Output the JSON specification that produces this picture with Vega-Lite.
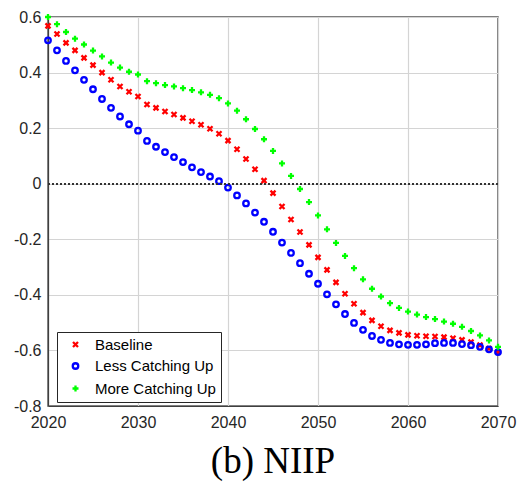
{
  "$schema": "https://vega.github.io/schema/vega-lite/v6.json",
  "width": 450,
  "height": 389,
  "autosize": {"type": "none"},
  "padding": {"left": 48, "top": 17, "right": 26, "bottom": 80},
  "background": "white",
  "title": {"text": "(b) NIIP", "orient": "bottom", "font": "Liberation Serif", "fontSize": 37, "fontWeight": "normal", "color": "#000000", "offset": 14, "anchor": "middle"},
  "config": {
    "view": {"stroke": "#555555", "strokeWidth": 1.5},
    "axis": {"labelFont": "Liberation Sans", "labelFontSize": 16, "labelColor": "#262626", "domainColor": "#404040", "domainWidth": 1.2, "tickSize": 0, "grid": true, "gridColor": "#d4d4d4", "gridWidth": 1.2, "title": null, "labelFlush": false},
    "legend": {"labelFont": "Liberation Sans", "labelFontSize": 15, "labelColor": "#000000", "strokeColor": "#262626", "fillColor": "white", "padding": 5, "rowPadding": 5.5, "symbolStrokeWidth": 2.3, "labelOffset": 12, "symbolOffset": 6}
  },
  "data": {"name": "d", "values": [
    {"t":2020,"s":"Baseline","v":0.568},{"t":2021,"s":"Baseline","v":0.539},{"t":2022,"s":"Baseline","v":0.507},{"t":2023,"s":"Baseline","v":0.480},{"t":2024,"s":"Baseline","v":0.453},{"t":2025,"s":"Baseline","v":0.427},{"t":2026,"s":"Baseline","v":0.400},{"t":2027,"s":"Baseline","v":0.374},{"t":2028,"s":"Baseline","v":0.350},{"t":2029,"s":"Baseline","v":0.331},
    {"t":2030,"s":"Baseline","v":0.314},{"t":2031,"s":"Baseline","v":0.285},{"t":2032,"s":"Baseline","v":0.273},{"t":2033,"s":"Baseline","v":0.260},{"t":2034,"s":"Baseline","v":0.249},{"t":2035,"s":"Baseline","v":0.237},{"t":2036,"s":"Baseline","v":0.225},{"t":2037,"s":"Baseline","v":0.212},{"t":2038,"s":"Baseline","v":0.198},{"t":2039,"s":"Baseline","v":0.180},
    {"t":2040,"s":"Baseline","v":0.155},{"t":2041,"s":"Baseline","v":0.124},{"t":2042,"s":"Baseline","v":0.089},{"t":2043,"s":"Baseline","v":0.052},{"t":2044,"s":"Baseline","v":0.011},{"t":2045,"s":"Baseline","v":-0.034},{"t":2046,"s":"Baseline","v":-0.082},{"t":2047,"s":"Baseline","v":-0.129},{"t":2048,"s":"Baseline","v":-0.174},{"t":2049,"s":"Baseline","v":-0.220},
    {"t":2050,"s":"Baseline","v":-0.265},{"t":2051,"s":"Baseline","v":-0.310},{"t":2052,"s":"Baseline","v":-0.355},{"t":2053,"s":"Baseline","v":-0.396},{"t":2054,"s":"Baseline","v":-0.432},{"t":2055,"s":"Baseline","v":-0.464},{"t":2056,"s":"Baseline","v":-0.492},{"t":2057,"s":"Baseline","v":-0.513},{"t":2058,"s":"Baseline","v":-0.528},{"t":2059,"s":"Baseline","v":-0.537},
    {"t":2060,"s":"Baseline","v":-0.544},{"t":2061,"s":"Baseline","v":-0.547},{"t":2062,"s":"Baseline","v":-0.549},{"t":2063,"s":"Baseline","v":-0.550},{"t":2064,"s":"Baseline","v":-0.552},{"t":2065,"s":"Baseline","v":-0.556},{"t":2066,"s":"Baseline","v":-0.562},{"t":2067,"s":"Baseline","v":-0.570},{"t":2068,"s":"Baseline","v":-0.581},{"t":2069,"s":"Baseline","v":-0.593},{"t":2070,"s":"Baseline","v":-0.606},
    {"t":2020,"s":"Less Catching Up","v":0.516},{"t":2021,"s":"Less Catching Up","v":0.480},{"t":2022,"s":"Less Catching Up","v":0.442},{"t":2023,"s":"Less Catching Up","v":0.408},{"t":2024,"s":"Less Catching Up","v":0.374},{"t":2025,"s":"Less Catching Up","v":0.340},{"t":2026,"s":"Less Catching Up","v":0.305},{"t":2027,"s":"Less Catching Up","v":0.273},{"t":2028,"s":"Less Catching Up","v":0.242},{"t":2029,"s":"Less Catching Up","v":0.214},
    {"t":2030,"s":"Less Catching Up","v":0.191},{"t":2031,"s":"Less Catching Up","v":0.154},{"t":2032,"s":"Less Catching Up","v":0.133},{"t":2033,"s":"Less Catching Up","v":0.114},{"t":2034,"s":"Less Catching Up","v":0.096},{"t":2035,"s":"Less Catching Up","v":0.078},{"t":2036,"s":"Less Catching Up","v":0.059},{"t":2037,"s":"Less Catching Up","v":0.042},{"t":2038,"s":"Less Catching Up","v":0.026},{"t":2039,"s":"Less Catching Up","v":0.009},
    {"t":2040,"s":"Less Catching Up","v":-0.014},{"t":2041,"s":"Less Catching Up","v":-0.042},{"t":2042,"s":"Less Catching Up","v":-0.071},{"t":2043,"s":"Less Catching Up","v":-0.104},{"t":2044,"s":"Less Catching Up","v":-0.137},{"t":2045,"s":"Less Catching Up","v":-0.173},{"t":2046,"s":"Less Catching Up","v":-0.212},{"t":2047,"s":"Less Catching Up","v":-0.249},{"t":2048,"s":"Less Catching Up","v":-0.286},{"t":2049,"s":"Less Catching Up","v":-0.324},
    {"t":2050,"s":"Less Catching Up","v":-0.360},{"t":2051,"s":"Less Catching Up","v":-0.398},{"t":2052,"s":"Less Catching Up","v":-0.434},{"t":2053,"s":"Less Catching Up","v":-0.469},{"t":2054,"s":"Less Catching Up","v":-0.501},{"t":2055,"s":"Less Catching Up","v":-0.526},{"t":2056,"s":"Less Catching Up","v":-0.548},{"t":2057,"s":"Less Catching Up","v":-0.562},{"t":2058,"s":"Less Catching Up","v":-0.573},{"t":2059,"s":"Less Catching Up","v":-0.578},
    {"t":2060,"s":"Less Catching Up","v":-0.580},{"t":2061,"s":"Less Catching Up","v":-0.580},{"t":2062,"s":"Less Catching Up","v":-0.578},{"t":2063,"s":"Less Catching Up","v":-0.574},{"t":2064,"s":"Less Catching Up","v":-0.573},{"t":2065,"s":"Less Catching Up","v":-0.573},{"t":2066,"s":"Less Catching Up","v":-0.577},{"t":2067,"s":"Less Catching Up","v":-0.581},{"t":2068,"s":"Less Catching Up","v":-0.587},{"t":2069,"s":"Less Catching Up","v":-0.596},{"t":2070,"s":"Less Catching Up","v":-0.606},
    {"t":2020,"s":"More Catching Up","v":0.600},{"t":2021,"s":"More Catching Up","v":0.574},{"t":2022,"s":"More Catching Up","v":0.546},{"t":2023,"s":"More Catching Up","v":0.522},{"t":2024,"s":"More Catching Up","v":0.501},{"t":2025,"s":"More Catching Up","v":0.479},{"t":2026,"s":"More Catching Up","v":0.458},{"t":2027,"s":"More Catching Up","v":0.436},{"t":2028,"s":"More Catching Up","v":0.418},{"t":2029,"s":"More Catching Up","v":0.403},
    {"t":2030,"s":"More Catching Up","v":0.393},{"t":2031,"s":"More Catching Up","v":0.369},{"t":2032,"s":"More Catching Up","v":0.362},{"t":2033,"s":"More Catching Up","v":0.355},{"t":2034,"s":"More Catching Up","v":0.350},{"t":2035,"s":"More Catching Up","v":0.344},{"t":2036,"s":"More Catching Up","v":0.337},{"t":2037,"s":"More Catching Up","v":0.329},{"t":2038,"s":"More Catching Up","v":0.320},{"t":2039,"s":"More Catching Up","v":0.308},
    {"t":2040,"s":"More Catching Up","v":0.289},{"t":2041,"s":"More Catching Up","v":0.263},{"t":2042,"s":"More Catching Up","v":0.232},{"t":2043,"s":"More Catching Up","v":0.197},{"t":2044,"s":"More Catching Up","v":0.160},{"t":2045,"s":"More Catching Up","v":0.118},{"t":2046,"s":"More Catching Up","v":0.073},{"t":2047,"s":"More Catching Up","v":0.028},{"t":2048,"s":"More Catching Up","v":-0.019},{"t":2049,"s":"More Catching Up","v":-0.066},
    {"t":2050,"s":"More Catching Up","v":-0.114},{"t":2051,"s":"More Catching Up","v":-0.164},{"t":2052,"s":"More Catching Up","v":-0.213},{"t":2053,"s":"More Catching Up","v":-0.260},{"t":2054,"s":"More Catching Up","v":-0.304},{"t":2055,"s":"More Catching Up","v":-0.344},{"t":2056,"s":"More Catching Up","v":-0.378},{"t":2057,"s":"More Catching Up","v":-0.406},{"t":2058,"s":"More Catching Up","v":-0.430},{"t":2059,"s":"More Catching Up","v":-0.447},
    {"t":2060,"s":"More Catching Up","v":-0.460},{"t":2061,"s":"More Catching Up","v":-0.471},{"t":2062,"s":"More Catching Up","v":-0.480},{"t":2063,"s":"More Catching Up","v":-0.487},{"t":2064,"s":"More Catching Up","v":-0.496},{"t":2065,"s":"More Catching Up","v":-0.504},{"t":2066,"s":"More Catching Up","v":-0.515},{"t":2067,"s":"More Catching Up","v":-0.530},{"t":2068,"s":"More Catching Up","v":-0.546},{"t":2069,"s":"More Catching Up","v":-0.564},{"t":2070,"s":"More Catching Up","v":-0.587}
  ]},
  "layer": [
    {
      "mark": {"type": "point", "filled": false, "strokeWidth": 2.3, "opacity": 1},
      "encoding": {
        "x": {"field": "t", "type": "quantitative", "scale": {"domain": [2020, 2070], "nice": false, "zero": false},
              "axis": {"values": [2020, 2030, 2040, 2050, 2060, 2070], "format": "d", "labelPadding": 8, "grid": true}},
        "y": {"field": "v", "type": "quantitative", "scale": {"domain": [-0.8, 0.6], "nice": false, "zero": false},
              "axis": {"values": [-0.8, -0.6, -0.4, -0.2, 0, 0.2, 0.4, 0.6], "labelExpr": "'' + datum.value", "labelPadding": 7, "grid": true}},
        "color": {"field": "s", "type": "nominal", "scale": {"domain": ["Baseline", "Less Catching Up", "More Catching Up"], "range": ["#ff0000", "#0000ff", "#00ff00"]},
                  "legend": {"title": null, "orient": "none", "legendX": 9, "legendY": 315}},
        "shape": {"field": "s", "type": "nominal", "scale": {"domain": ["Baseline", "Less Catching Up", "More Catching Up"], "range": ["M-1,-1L1,1M-1,1L1,-1", "circle", "M-1,0L1,0M0,-1L0,1"]}},
        "size": {"field": "s", "type": "nominal", "scale": {"domain": ["Baseline", "Less Catching Up", "More Catching Up"], "range": [25, 36, 56]}}
      }
    },
    {
      "mark": {"type": "rule", "strokeDash": [1.5, 2.5], "color": "#333333", "strokeWidth": 1.6},
      "encoding": {
        "y": {"datum": 0, "type": "quantitative"}
      }
    }
  ]
}
